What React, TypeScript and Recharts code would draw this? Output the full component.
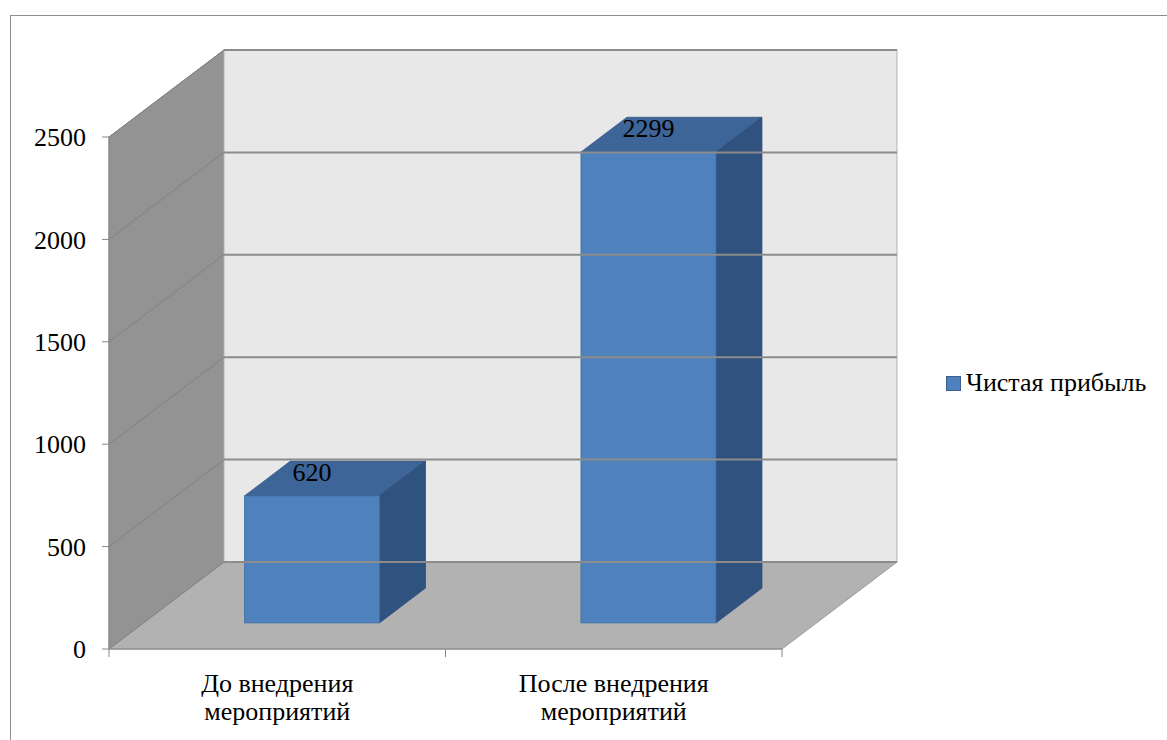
import React from "react";
import {
  Bar,
  BarChart,
  LabelList,
  Legend,
  ReferenceArea,
  ReferenceLine,
  XAxis,
  YAxis,
} from "recharts";

const categories = ["До внедрения мероприятий", "После внедрения мероприятий"];
const profit = [620, 2299];
const yTicks = [0, 500, 1000, 1500, 2000, 2500];
const seriesName = "Чистая прибыль";

const data = categories.map((name, i) => ({ name, profit: profit[i] }));

const FONT = '"Liberation Serif", "Times New Roman", Times, "DejaVu Serif", serif';

// глубина "коробки" (задняя стенка смещена вправо-вверх)
const DX = 115;
const DY = -87;
// столбик стоит в середине глубины
const FX = DX * 0.3;
const FY = DY * 0.3;
const BX = DX * 0.4;
const BY = DY * 0.4;

function Walls(props: any) {
  const { x, y, width, height } = props;
  const b = y + height;
  return (
    <g>
      <polygon
        points={`${x},${b} ${x},${y} ${x + DX},${y + DY} ${x + DX},${b + DY}`}
        fill="#939393"
        stroke="#8a8a8a"
      />
      <rect x={x + DX} y={y + DY} width={width} height={height} fill="#e8e8e8" stroke="#b4b4b4" />
      <polygon
        points={`${x},${b} ${x + width},${b} ${x + width + DX},${b + DY} ${x + DX},${b + DY}`}
        fill="#b2b2b2"
        stroke="#9a9a9a"
      />
    </g>
  );
}

function GridLine(props: any) {
  const { x1, y1, x2 } = props;
  return (
    <g>
      <line x1={x1 + DX} y1={y1 + DY} x2={x2 + DX} y2={y1 + DY} stroke="#8c8c8c" strokeWidth={2} />
      <line x1={x1} y1={y1} x2={x1 + DX} y2={y1 + DY} stroke="#808080" strokeWidth={1} />
    </g>
  );
}

function Bar3D(props: any) {
  const { x, y, width, height } = props;
  if (!height) return null;
  const fx = x + FX;
  const fy = y + FY;
  return (
    <g>
      <polygon
        points={`${fx},${fy} ${fx + width},${fy} ${fx + width + BX},${fy + BY} ${fx + BX},${fy + BY}`}
        fill="#3d6597"
        stroke="#36598a"
        strokeWidth={0.8}
      />
      <polygon
        points={`${fx + width},${fy} ${fx + width + BX},${fy + BY} ${fx + width + BX},${fy + height + BY} ${fx + width},${fy + height}`}
        fill="#30527f"
        stroke="#2c4b75"
        strokeWidth={0.8}
      />
      <rect x={fx} y={fy} width={width} height={height} fill="#4f81bd" stroke="#3f6ea6" strokeWidth={0.8} />
    </g>
  );
}

function ValueLabel(props: any) {
  const { x, y, width, value } = props;
  return (
    <text
      x={x + width / 2 + FX}
      y={y + FY - 24}
      dy="0.35em"
      textAnchor="middle"
      fontFamily={FONT}
      fontSize={26}
      fill="#000"
    >
      {value}
    </text>
  );
}

function CategoryTick(props: any) {
  const { x, y, payload, width } = props;
  const half = payload.offset || width / categories.length / 2;
  const text: string = payload.value;
  const cut = text.lastIndexOf(" ");
  const lines = [text.slice(0, cut), text.slice(cut + 1)];
  return (
    <g>
      <line x1={x - half} y1={y} x2={x - half} y2={y + 8} stroke="#868686" />
      <line x1={x + half} y1={y} x2={x + half} y2={y + 8} stroke="#868686" />
      <text x={x} y={y} textAnchor="middle" fontFamily={FONT} fontSize={26} fill="#000">
        {lines.map((l, i) => (
          <tspan key={i} x={x} y={y + 43 + i * 28}>
            {l}
          </tspan>
        ))}
      </text>
    </g>
  );
}

function LegendBox() {
  return (
    <div style={{ display: "flex", alignItems: "center", fontFamily: FONT, fontSize: 26, lineHeight: "30px" }}>
      <span
        style={{
          display: "inline-block",
          width: 13,
          height: 13,
          background: "#4f81bd",
          border: "1px solid #3a5f8c",
          marginRight: 5,
        }}
      />
      <span>{seriesName}</span>
    </div>
  );
}

export default function App() {
  return (
    <div style={{ position: "absolute", left: 0, top: 0, width: 1167, height: 740, background: "#fff" }}>
      <div
        style={{
          position: "absolute",
          left: 10,
          top: 15,
          right: 0,
          bottom: 0,
          borderTop: "1.5px solid #8e8e8e",
          borderLeft: "1.5px solid #8e8e8e",
        }}
      />
      <BarChart
        width={1167}
        height={740}
        data={data}
        margin={{ top: 137, right: 385, bottom: 61, left: 49 }}
        barCategoryGap="30%"
        style={{ position: "absolute", left: 0, top: 0 }}
      >
        <ReferenceArea y1={0} y2={2500} shape={Walls} ifOverflow="visible" />
        {yTicks.map((v) => (
          <ReferenceLine key={v} y={v} shape={GridLine} ifOverflow="visible" />
        ))}
        <XAxis
          dataKey="name"
          tickSize={0}
          tickMargin={0}
          tickLine={false}
          axisLine={{ stroke: "#868686" }}
          tick={CategoryTick}
          interval={0}
        />
        <YAxis
          width={60}
          domain={[0, 2500]}
          ticks={yTicks}
          tickSize={7}
          tickMargin={16}
          axisLine={{ stroke: "#868686" }}
          tickLine={{ stroke: "#868686" }}
          tick={{ fontFamily: FONT, fontSize: 26, fill: "#000" }}
        />
        <Legend
          layout="horizontal"
          verticalAlign="middle"
          align="center"
          wrapperStyle={{ left: 946, right: "auto", top: 368, width: 220 }}
          content={LegendBox}
        />
        <Bar dataKey="profit" name={seriesName} shape={Bar3D} isAnimationActive={false}>
          <LabelList dataKey="profit" content={ValueLabel} />
        </Bar>
      </BarChart>
    </div>
  );
}
